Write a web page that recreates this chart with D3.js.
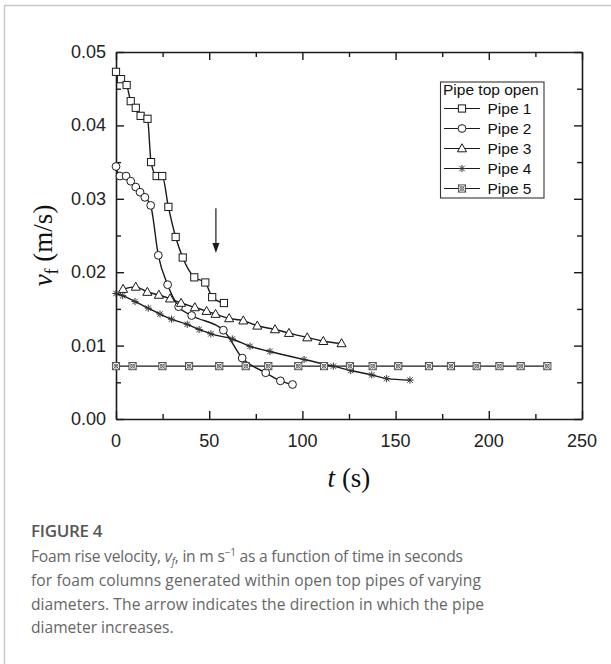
<!DOCTYPE html>
<html>
<head>
<meta charset="utf-8">
<script src="https://cdn.jsdelivr.net/npm/d3@7"></script>
<style>
  html, body { margin: 0; padding: 0; background: #fff; }
  svg { display: block; }
</style>
</head>
<body>
<svg id="chart" width="611" height="664"></svg>
<script>
// Foam rise velocity v_f (m/s) versus time t (s), five open-top pipes
const pipe1T = [0, 2.7, 5.7, 7.9, 10.6, 13.2, 16.9, 18.8, 21.8, 24.8, 28.1, 32.0, 35.8, 42.0, 47.9, 51.6, 57.9];
const pipe1V = [0.0473, 0.0463, 0.0455, 0.0433, 0.0424, 0.0413, 0.0409, 0.0350, 0.0331, 0.0331, 0.0289, 0.0248, 0.0220, 0.0193, 0.0186, 0.0166, 0.0158];

const pipe2T = [0, 2.1, 5.4, 7.9, 10.6, 12.9, 15.5, 18.6, 22.7, 27.7, 33.6, 40.6, 57.6, 67.7, 80.3, 88.2, 94.7];
const pipe2V = [0.0344, 0.0331, 0.0331, 0.0324, 0.0316, 0.0309, 0.0302, 0.0291, 0.0223, 0.0183, 0.0153, 0.0141, 0.0121, 0.0083, 0.0063, 0.0052, 0.0047];

const pipe3T = [3.8, 10.6, 16.8, 23.0, 29.0, 34.9, 42.3, 48.6, 53.4, 60.7, 68.3, 75.8, 85.3, 92.8, 102.6, 111.2, 121.0];
const pipe3V = [0.0177, 0.0180, 0.0173, 0.0169, 0.0164, 0.0158, 0.0152, 0.0147, 0.0143, 0.0137, 0.0134, 0.0127, 0.0122, 0.0117, 0.0111, 0.0106, 0.0103];

const pipe4T = [0, 3.6, 10.2, 17.3, 23.6, 29.8, 38.2, 44.6, 50.9, 62.4, 71.9, 82.6, 100.9, 116.6, 125.9, 137.2, 145.2, 157.7];
const pipe4V = [0.0171, 0.0168, 0.0160, 0.0151, 0.0143, 0.0136, 0.0129, 0.0122, 0.0116, 0.0109, 0.0099, 0.0092, 0.0081, 0.0072, 0.0066, 0.0060, 0.0055, 0.0053];

const pipe5T = [0, 8.9, 24.9, 39.2, 55.4, 69.6, 81.7, 97.8, 111.6, 125.5, 137.7, 151.4, 167.9, 179.7, 193.5, 205.7, 217.1, 231.4];
const pipe5V = [0.0072, 0.0072, 0.0072, 0.0072, 0.0072, 0.0072, 0.0072, 0.0072, 0.0072, 0.0072, 0.0072, 0.0072, 0.0072, 0.0072, 0.0072, 0.0072, 0.0072, 0.0072];

const seriesNames = ["Pipe 1", "Pipe 2", "Pipe 3", "Pipe 4", "Pipe 5"];
const seriesSymbols = ["square", "circle", "triangle", "star", "boxx"];
const legendTitle = "Pipe top open";

const xTicks = [0, 50, 100, 150, 200, 250];
const xMinorTicks = [25, 75, 125, 175, 225];
const yTicks = [0.00, 0.01, 0.02, 0.03, 0.04, 0.05];
const yMinorTicks = [0.005, 0.015, 0.025, 0.035, 0.045];

// Arrow showing increasing pipe diameter: [t, v start, v end]
const arrowT = 53.6;
const arrowV = [0.0287, 0.0226];

const captionTitle = "FIGURE 4";

const series = [
  { t: pipe1T, v: pipe1V },
  { t: pipe2T, v: pipe2V },
  { t: pipe3T, v: pipe3V },
  { t: pipe4T, v: pipe4V },
  { t: pipe5T, v: pipe5V }
].map((s, i) => ({
  name: seriesNames[i],
  symbol: seriesSymbols[i],
  points: s.t.map((t, j) => ({ t, v: s.v[j] }))
}));

const svg = d3.select("#chart");
const ink = "#1a1a1a";

// page frame
svg.append("path")
  .attr("d", "M4.5,664 V5.5 H611")
  .attr("fill", "none")
  .attr("stroke", "#c9c9c9")
  .attr("stroke-width", 1.5);

const plot = { left: 116, right: 582, top: 52, bottom: 419 };
const x = d3.scaleLinear().domain([0, 250]).range([plot.left, plot.right]);
const y = d3.scaleLinear().domain([0, 0.05]).range([plot.bottom, plot.top]);

const tickFont = "'Liberation Sans', Arial, sans-serif";

// axes: ticks drawn inward on all four sides
function axisGroup(axisFn, scale, ticks, size, transform) {
  const g = svg.append("g").attr("transform", transform);
  g.call(axisFn(scale).tickValues(ticks).tickSizeInner(size).tickSizeOuter(0).tickFormat(""));
  g.select(".domain").attr("stroke", ink).attr("stroke-width", 1.6);
  g.selectAll(".tick line").attr("stroke", ink).attr("stroke-width", 1.4);
  return g;
}

axisGroup(d3.axisTop, x, xTicks, 8, `translate(0,${plot.bottom})`);
axisGroup(d3.axisTop, x, xMinorTicks, 5, `translate(0,${plot.bottom})`).select(".domain").remove();
axisGroup(d3.axisBottom, x, xTicks, 8, `translate(0,${plot.top})`);
axisGroup(d3.axisBottom, x, xMinorTicks, 5, `translate(0,${plot.top})`).select(".domain").remove();
axisGroup(d3.axisRight, y, yTicks, 8, `translate(${plot.left},0)`);
axisGroup(d3.axisRight, y, yMinorTicks, 5, `translate(${plot.left},0)`).select(".domain").remove();
axisGroup(d3.axisLeft, y, yTicks, 8, `translate(${plot.right},0)`);
axisGroup(d3.axisLeft, y, yMinorTicks, 5, `translate(${plot.right},0)`).select(".domain").remove();

// tick labels
svg.append("g").selectAll("text").data(xTicks).join("text")
  .attr("x", d => x(d)).attr("y", plot.bottom + 28)
  .attr("text-anchor", "middle")
  .attr("font-family", tickFont).attr("font-size", 18).attr("fill", "#222")
  .text(d3.format("d"));
svg.append("g").selectAll("text").data(yTicks).join("text")
  .attr("x", plot.left - 10).attr("y", d => y(d) + 6)
  .attr("text-anchor", "end")
  .attr("font-family", tickFont).attr("font-size", 18).attr("fill", "#222")
  .text(d3.format(".2f"));

// axis titles
const serif = "'Liberation Serif', 'Times New Roman', serif";
const xTitle = svg.append("text")
  .attr("x", (plot.left + plot.right) / 2).attr("y", plot.bottom + 68)
  .attr("text-anchor", "middle")
  .attr("font-family", serif).attr("font-size", 27).attr("fill", "#111");
xTitle.append("tspan").attr("font-style", "italic").text("t");
xTitle.append("tspan").text(" (s)");

const yTitle = svg.append("text")
  .attr("transform", `translate(52,${(plot.top + plot.bottom) / 2 + 10}) rotate(-90)`)
  .attr("text-anchor", "middle")
  .attr("font-family", serif).attr("font-size", 27).attr("fill", "#111");
yTitle.append("tspan").attr("font-style", "italic").text("v");
yTitle.append("tspan").attr("font-size", 18).attr("dy", 6).text("f");
yTitle.append("tspan").attr("dy", -6).text(" (m/s)");

// marker drawing
function drawMarker(g, symbol, cx, cy) {
  const r = 3.6;
  if (symbol === "square") {
    g.append("rect").attr("x", cx - r).attr("y", cy - r).attr("width", 2 * r).attr("height", 2 * r)
      .attr("fill", "#fff").attr("stroke", ink).attr("stroke-width", 1);
  } else if (symbol === "circle") {
    g.append("circle").attr("cx", cx).attr("cy", cy).attr("r", r + 0.3)
      .attr("fill", "#fff").attr("stroke", ink).attr("stroke-width", 1);
  } else if (symbol === "triangle") {
    const h = r * 1.15;
    g.append("path")
      .attr("d", `M${cx},${cy - h - 0.6} L${cx + h * 1.1},${cy + h * 0.8} L${cx - h * 1.1},${cy + h * 0.8} Z`)
      .attr("fill", "#fff").attr("stroke", ink).attr("stroke-width", 1);
  } else if (symbol === "star") {
    const s = r;
    g.append("path")
      .attr("d", `M${cx - s},${cy} H${cx + s} M${cx},${cy - s} V${cy + s} M${cx - s * 0.75},${cy - s * 0.75} L${cx + s * 0.75},${cy + s * 0.75} M${cx - s * 0.75},${cy + s * 0.75} L${cx + s * 0.75},${cy - s * 0.75}`)
      .attr("fill", "none").attr("stroke", "#333").attr("stroke-width", 1);
  } else if (symbol === "boxx") {
    g.append("rect").attr("x", cx - r).attr("y", cy - r).attr("width", 2 * r).attr("height", 2 * r)
      .attr("fill", "#fff").attr("stroke", "#444").attr("stroke-width", 0.9);
    g.append("path")
      .attr("d", `M${cx - r},${cy - r} L${cx + r},${cy + r} M${cx - r},${cy + r} L${cx + r},${cy - r}`)
      .attr("stroke", "#444").attr("stroke-width", 0.8);
    g.append("circle").attr("cx", cx).attr("cy", cy).attr("r", r * 0.55)
      .attr("fill", "none").attr("stroke", "#444").attr("stroke-width", 0.7);
  }
}

// series lines and markers
const line = d3.line().x(d => x(d.t)).y(d => y(d.v)).curve(d3.curveMonotoneX);
const linesG = svg.append("g");
const marksG = svg.append("g");
series.forEach(s => {
  linesG.append("path").datum(s.points)
    .attr("d", line)
    .attr("fill", "none").attr("stroke", ink).attr("stroke-width", 1.4);
  const mg = marksG.append("g");
  s.points.forEach(p => drawMarker(mg, s.symbol, x(p.t), y(p.v)));
});

// direction arrow
const ax = x(arrowT), ay0 = y(arrowV[0]), ay1 = y(arrowV[1]);
svg.append("line").attr("x1", ax).attr("x2", ax).attr("y1", ay0).attr("y2", ay1 - 8)
  .attr("stroke", ink).attr("stroke-width", 1.2);
svg.append("path")
  .attr("d", `M${ax - 3.5},${ay1 - 10} L${ax + 3.5},${ay1 - 10} L${ax},${ay1} Z`)
  .attr("fill", ink);

// legend
const lg = svg.append("g");
const box = { x: 440.5, y: 82, w: 103.5, h: 116 };
lg.append("rect").attr("x", box.x).attr("y", box.y).attr("width", box.w).attr("height", box.h)
  .attr("fill", "#fff").attr("stroke", "#333").attr("stroke-width", 1.1);
lg.append("text").attr("x", box.x + 2.5).attr("y", box.y + 13)
  .attr("font-family", tickFont).attr("font-size", 15.5).attr("fill", "#111").text(legendTitle);
series.forEach((s, i) => {
  const cy = box.y + 26.5 + i * 20;
  lg.append("line").attr("x1", box.x + 3.5).attr("x2", box.x + 39.5).attr("y1", cy).attr("y2", cy)
    .attr("stroke", ink).attr("stroke-width", 1.2);
  drawMarker(lg, s.symbol, box.x + 21.5, cy);
  lg.append("text").attr("x", box.x + 47).attr("y", cy + 5.5)
    .attr("font-family", tickFont).attr("font-size", 15.5).attr("fill", "#111").text(s.name);
});

// caption
const capFont = "'Open Sans', 'Noto Sans', sans-serif";
svg.append("text").attr("x", 31).attr("y", 537)
  .attr("font-family", capFont).attr("font-size", 17).attr("font-weight", 600)
  .attr("fill", "#555").attr("letter-spacing", -0.3).text(captionTitle);

const cap = svg.append("g").attr("font-family", capFont).attr("font-size", 15.6)
  .attr("fill", "#666");
const l1 = cap.append("text").attr("x", 31).attr("y", 562)
  .attr("textLength", 432).attr("lengthAdjust", "spacing");
l1.append("tspan").text("Foam rise velocity, ");
l1.append("tspan").attr("font-style", "italic").text("v");
l1.append("tspan").attr("font-style", "italic").attr("font-size", 10).attr("dy", 3).text("f");
l1.append("tspan").attr("dy", -3).text(", in m s");
l1.append("tspan").attr("font-size", 10).attr("dy", -6).text("−1");
l1.append("tspan").attr("dy", 6).text(" as a function of time in seconds");
cap.append("text").attr("x", 31).attr("y", 586)
  .attr("textLength", 450).attr("lengthAdjust", "spacing")
  .text("for foam columns generated within open top pipes of varying");
cap.append("text").attr("x", 31).attr("y", 610)
  .attr("textLength", 453).attr("lengthAdjust", "spacing")
  .text("diameters. The arrow indicates the direction in which the pipe");
cap.append("text").attr("x", 31).attr("y", 633)
  .text("diameter increases.");
</script>
</body>
</html>
